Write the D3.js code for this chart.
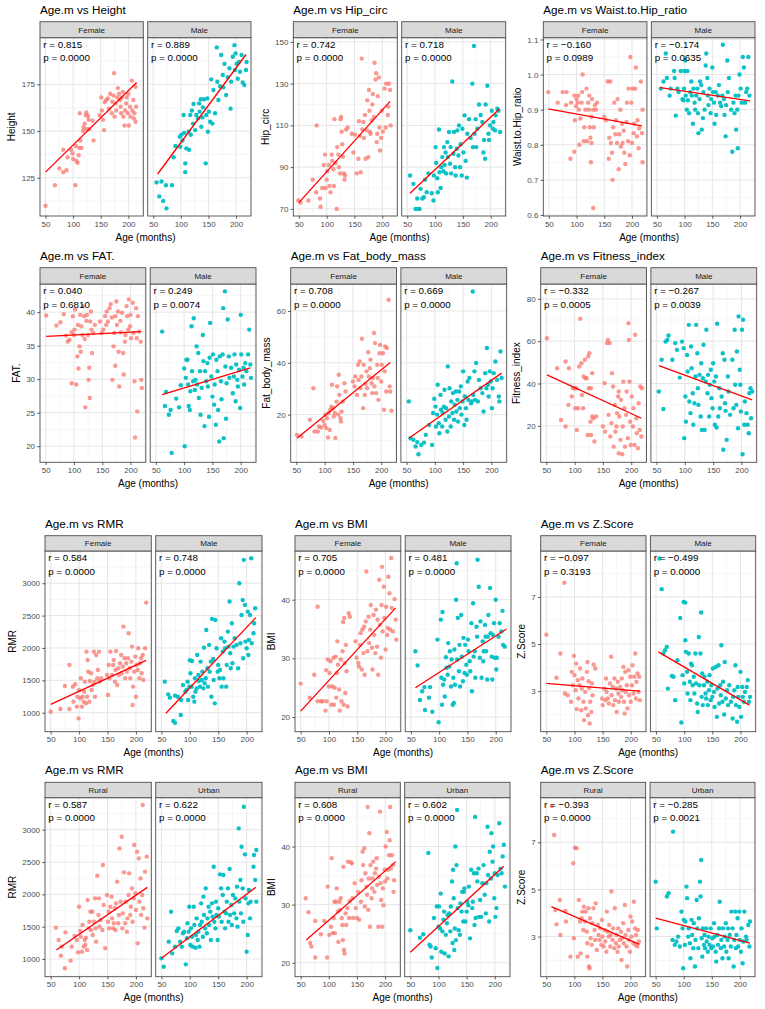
<!DOCTYPE html>
<html>
<head>
<meta charset="utf-8">
<script src="https://cdn.jsdelivr.net/npm/d3@7"></script>
<style>
body { margin: 0; background: #fff; }
svg { display: block; font-family: "Liberation Sans", Arial, sans-serif; }
</style>
</head>
<body>
<div id="chart"></div>
<script>
// shared x axis
const ageDomain = [40, 227];
const ageTicks = [50, 100, 150, 200];

// panel titles, y titles, facet names
const titles = ["Age.m vs Height", "Age.m vs Hip_circ", "Age.m vs Waist.to.Hip_ratio",
	"Age.m vs FAT.", "Age.m vs Fat_body_mass", "Age.m vs Fitness_index",
	"Age.m vs RMR", "Age.m vs BMI", "Age.m vs Z.Score",
	"Age.m vs RMR", "Age.m vs BMI", "Age.m vs Z.Score"];
const yTitles = ["Height", "Hip_circ", "Waist.to.Hip_ratio", "FAT.", "Fat_body_mass", "Fitness_index",
	"RMR", "BMI", "Z.Score", "RMR", "BMI", "Z.Score"];
const sexFacets = ["Female", "Male"];
const areaFacets = ["Rural", "Urban"];

// y axes
const yTicks = [[125, 150, 175], [70, 90, 110, 130, 150], [0.6, 0.7, 0.8, 0.9, 1.0, 1.1],
	[20, 25, 30, 35, 40], [20, 40, 60], [20, 40, 60, 80],
	[1000, 1500, 2000, 2500, 3000], [20, 30, 40], [3, 5, 7],
	[1000, 1500, 2000, 2500, 3000], [20, 30, 40], [3, 5, 7]];
const yDomains = [[104.5, 200], [66.6, 152], [0.597, 1.105],
	[17.6, 44.2], [1.6, 70.4], [2.8, 87],
	[706, 3498], [17.5, 48.3], [1.28, 8.95],
	[726, 3495], [17.6, 48.4], [1.3, 8.89]];

// correlation labels
const rLabels = [["0.815", "0.889"], ["0.742", "0.718"], ["−0.160", "−0.174"],
	["0.040", "0.249"], ["0.708", "0.669"], ["−0.332", "−0.267"],
	["0.584", "0.748"], ["0.705", "0.481"], ["−0.097", "−0.499"],
	["0.587", "0.622"], ["0.608", "0.602"], ["−0.393", "−0.285"]];
const pLabels = [["0.0000", "0.0000"], ["0.0000", "0.0000"], ["0.0989", "0.0635"],
	["0.6810", "0.0074"], ["0.0000", "0.0000"], ["0.0005", "0.0039"],
	["0.0000", "0.0000"], ["0.0000", "0.0000"], ["0.3193", "0.0000"],
	["0.0000", "0.0000"], ["0.0000", "0.0000"], ["0.0000", "0.0021"]];

// fitted lines [x0, y0, x1, y1] per facet
const fitLines = [
	[[50, 128, 215, 176], [58, 127, 218, 191]],
	[[50, 73, 214, 121.5], [55, 77.5, 216, 118]],
	[[49, 0.902, 218, 0.854], [56, 0.963, 218, 0.925]],
	[[51, 36.4, 219, 37.1], [61, 27.7, 217, 31.7]],
	[[51, 10.9, 216, 40.1], [54, 10.9, 218, 36]],
	[[51, 44.1, 218, 23.6], [54, 48.5, 219, 32.3]],
	[[50, 1129, 218, 1809], [58, 990, 216, 2469]],
	[[50, 21, 218, 38.6], [58, 25, 219, 35]],
	[[50, 3.33, 216, 3.0], [54, 4.67, 216, 2.41]],
	[[60, 1139, 220, 2108], [50, 1010, 216, 2108]],
	[[60, 23.9, 219, 37.4], [50, 21.8, 216, 36.6]],
	[[59, 4.27, 216, 2.67], [50, 3.78, 218, 2.72]]];

// points [age, value]
const heightF = [[50,110],[67,121],[75,130],[82,140],[82,128],[88,129],[90,136],[96,140],[99,138],[100,135],[104,121],[105,142],[106,134],[108,133],[111,141],[110,137],[112,159.5],[113,145],[115,141],[118,150],[119,152],[121,154],[123,158.5],[124,160],[125,151],[127,158],[128,156],[129,151],[135,155.5],[137,145],[148,158.5],[151,168],[152,161],[154,156],[156,150.5],[157,165.5],[160,166.6],[163,167.5],[165,162],[167,170],[170,159.5],[171,165.7],[173,169],[174,181],[175,157.7],[177,164.8],[178,161],[180,168],[181,173],[183,170],[185,166.6],[186,163],[187,159.5],[188,168],[190,171],[191,157.7],[193,153],[194,161],[196,164.8],[197,168],[199,159.5],[200,170],[201,153],[203,163],[204,157.7],[206,177],[207,161],[209,166.6],[210,156.8],[211,159.5],[213,173.7],[213,155],[214,163]];
const heightM = [[56,122.5],[61,115],[65,123],[68,112.5],[73,121],[74,108.6],[84,121],[87,136],[90,142],[98,147],[99,141.6],[101,148],[103,145],[105,158.6],[106,149],[108,132.7],[108,128],[110,140.7],[114,149.6],[115,140],[117,158.6],[118,148],[120,161],[122,154],[123,164.5],[126,150.5],[128,158.6],[131,156.8],[133,164.8],[134,160.4],[136,167],[137,152.3],[139,157.3],[140,162.7],[142,167],[145,132.7],[146,158.6],[148,167.5],[149,149.6],[151,160.4],[153,155],[155,177.7],[157,154],[159,172],[162,159.5],[165,194.8],[166,176.4],[168,166.6],[171,174],[173,190.7],[176,180],[177,173.4],[179,186],[182,169.3],[185,178.8],[188,183.6],[190,162],[191,176.4],[194,189.8],[197,196],[198,182.7],[199,191.6],[201,186],[203,178],[205,187],[207,181.8],[210,190.7],[212,176],[215,174.6],[218,182.7],[219,187]];

const hipF = [[49,74],[53,73],[67,74],[75,84],[81,78],[82,110],[88,75],[89,71],[92,80],[95,91],[97,96],[98,80],[100,84],[101,88],[104,91],[105,81],[107,78],[109,96],[110,93],[112,89],[113,81],[114,113],[116,92],[118,70],[119,99.6],[121,96],[122,90],[124,87],[125,113],[126,114],[127,107],[128,101],[129,95],[131,87],[132,84],[133,86],[135,108],[138,109],[145,106],[148,97],[151,105.5],[154,87],[157,94],[158,112],[160,105],[161,87.6],[163,142],[164,108],[166,111.6],[167,104],[169,115],[170,94],[172,107.6],[173,122],[175,94.8],[176,127],[177,117],[178,106.8],[179,106],[181,112.4],[182,120],[183,125],[185,114],[186,140],[188,132],[189,135],[190,102],[191,106],[192,124],[194,133],[195,109],[196,98],[198,104],[199,117],[201,107],[204,127.6],[206,109],[207,130],[210,115],[211,119],[212,130],[214,127],[215,110]];
const hipM = [[55,86],[61,82],[65,70],[68,75],[70,70],[72,70],[74,79.6],[77,75],[80,75.6],[82,84],[85,78],[88,87],[94,77.5],[97,74],[98,86],[101,99.6],[102,92],[104,84.7],[105,78],[107,108],[108,87.6],[110,80],[111,90],[113,94.8],[115,88],[116,99.6],[117,91],[119,97],[120,87],[122,102],[123,94.8],[125,106.8],[127,91.6],[128,99.6],[129,87],[131,131],[133,96.4],[134,106.8],[136,90],[137,86],[139,98.8],[140,107.6],[142,95.6],[143,110],[145,90],[146,101],[148,86],[149,108.4],[151,97],[153,114.8],[155,93],[157,85],[158,106],[161,113],[164,104],[167,130],[168,99.6],[170,148],[171,106],[173,113],[174,99.6],[176,108.4],[179,120],[182,115],[185,111.6],[187,97],[188,103],[190,94],[191,120],[194,129],[196,106],[197,103],[199,110],[202,117],[204,108.4],[205,111.6],[208,107.6],[209,114.8],[212,118],[214,117],[217,106.8]];

const whrF = [[49,0.95],[66,0.92],[75,0.95],[82,0.95],[81,0.913],[89,0.76],[90,0.92],[96,0.94],[97,0.87],[96,0.78],[99,0.91],[100,0.93],[102,0.92],[103,0.94],[104,0.9],[105,0.8],[107,0.875],[109,0.92],[110,0.95],[111,1.0],[113,0.81],[114,0.85],[116,0.9],[118,0.96],[119,0.81],[121,0.92],[122,0.9],[123,0.94],[124,0.85],[125,0.82],[126,0.75],[127,0.805],[127,0.88],[128,0.93],[130,0.62],[130,0.9],[131,0.85],[133,0.913],[135,0.9],[137,0.92],[150,0.88],[153,0.87],[156,0.98],[158,0.76],[159,0.82],[161,0.98],[162,0.805],[164,0.777],[165,0.70],[166,0.85],[168,0.92],[170,0.83],[171,0.87],[173,0.805],[174,0.93],[176,0.73],[177,0.83],[179,0.9],[180,0.795],[182,0.86],[183,0.805],[185,0.84],[186,0.777],[188,0.745],[190,0.865],[191,0.92],[193,0.81],[194,0.96],[196,0.77],[197,1.05],[199,0.92],[200,0.805],[201,0.96],[203,0.833],[204,0.86],[206,0.96],[207,1.02],[209,0.824],[210,0.87],[212,0.79],[213,0.847],[216,0.98],[218,0.833],[219,0.75],[219,0.9]];
const whrM = [[57,0.96],[62,0.98],[66,1.06],[68,0.99],[73,0.94],[75,0.96],[81,1.01],[82,0.99],[84,0.883],[87,0.96],[89,0.95],[93,1.01],[96,0.93],[98,0.927],[99,0.96],[100,1.01],[101,1.04],[102,0.94],[104,0.9],[105,1.01],[106,0.927],[108,0.89],[110,0.95],[112,0.98],[113,0.94],[115,0.86],[116,0.96],[118,0.92],[119,0.9],[121,0.94],[123,0.96],[124,0.89],[125,0.833],[127,0.93],[128,0.98],[130,0.97],[131,0.843],[133,0.876],[134,0.95],[136,0.9],[138,1.026],[139,1.06],[141,0.99],[142,0.94],[143,0.913],[145,0.96],[147,0.89],[148,0.93],[150,1.02],[151,0.95],[153,0.92],[154,0.86],[156,0.95],[157,0.885],[160,0.94],[162,0.97],[164,0.92],[166,0.91],[168,0.94],[169,1.085],[171,0.93],[172,0.885],[174,0.824],[175,0.913],[177,1.04],[178,0.95],[180,0.99],[184,0.9],[186,0.78],[188,0.92],[190,0.89],[192,0.94],[193,0.843],[195,0.9],[196,0.79],[197,0.94],[199,1.0],[201,0.96],[203,0.92],[205,1.05],[207,1.02],[209,0.92],[211,0.95],[213,0.96],[215,1.05],[217,0.94]];

const fatF = [[51,39.5],[69,38],[76,38.5],[82,39.7],[86,36.5],[89,35.6],[92,35.9],[96,37],[96,29.4],[98,39.4],[100,36.6],[101,37.4],[102,40.4],[104,29.2],[106,33.4],[107,38.1],[108,31.6],[110,34.9],[111,39.6],[112,34.1],[113,37.9],[115,36.6],[116,40.9],[118,39.4],[119,36],[120,25.8],[122,38.7],[123,39.6],[125,36.6],[126,29.9],[127,31.7],[128,27.2],[129,38.6],[130,40.1],[131,37.4],[132,33.9],[134,36.9],[137,38.1],[146,38.6],[149,36.9],[152,37.4],[155,39.4],[157,38.1],[158,40.1],[160,38.6],[163,40.6],[165,41.2],[167,39.2],[168,29.9],[170,34.9],[171,36.9],[173,39.4],[173,32],[175,41.6],[176,38.1],[178,40.1],[179,34.1],[180,28.9],[182,38.7],[183,37],[185,39.9],[187,33.9],[188,30.7],[190,35.6],[191,36.6],[193,40.9],[194,39.4],[196,37.4],[197,41.9],[199,37.9],[200,39.6],[201,36.1],[204,41.4],[205,36.9],[207,29.7],[208,21.3],[210,40.6],[211,36.1],[212,25.2],[213,39.4],[215,37.1],[218,35.6],[219,29.9],[220,28.7]];
const fatM = [[61,37.1],[66,26],[68,28.1],[73,24.7],[76,25.4],[78,19],[86,27.1],[91,25.8],[94,29.1],[100,31.6],[101,20],[103,30.2],[104,32.9],[106,32.9],[107,29.2],[108,26],[110,25.4],[111,28.2],[113,37.9],[114,31.2],[116,29.7],[117,39.1],[119,28.4],[120,29.9],[122,34.9],[123,29.2],[125,33.9],[126,27.2],[128,31.2],[129,24.7],[131,28.7],[133,36.6],[134,32.7],[136,23],[137,31.2],[139,29.7],[141,32.4],[142,28.9],[144,24.4],[145,33.2],[146,38.4],[148,30.4],[150,27.4],[151,33.7],[153,26.2],[154,29.2],[156,23.2],[157,32.9],[159,31.2],[160,25.4],[162,20.7],[163,33.4],[165,29.7],[166,27],[168,33.7],[169,40.6],[170,21.2],[172,43.1],[173,31.9],[174,24.1],[175,29.4],[177,38.9],[179,33.4],[180,30.2],[183,31.7],[186,27.9],[188,30.4],[189,33.7],[191,26.7],[192,32.2],[194,29.9],[195,28.9],[197,31.4],[199,25.7],[200,39.6],[201,33.7],[203,30.4],[205,31.7],[206,29.2],[208,32.4],[210,31.2],[213,33.7],[215,37.4],[217,32.2],[218,30.2]];

const fbmF = [[51,12.2],[59,11.6],[74,18],[80,30.2],[82,13.5],[88,13.5],[90,15.4],[94,15],[97,17.6],[100,16],[101,20],[103,14.8],[104,18.6],[106,11.2],[107,20.6],[109,14.1],[110,21.9],[112,23.1],[113,31.5],[115,22.5],[116,19.3],[118,20.6],[119,11],[121,25],[122,30.9],[124,20],[125,35.4],[126,27.6],[128,18.6],[129,17.3],[130,21.2],[132,25],[135,32.1],[137,28.9],[150,32.8],[153,30.9],[154,34.7],[157,27.6],[159,39.2],[160,33.4],[162,40.5],[163,30.2],[165,34.7],[166,49.3],[168,22.5],[169,39.2],[171,27.6],[172,31.8],[174,36.7],[175,30.2],[177,44.1],[178,34.7],[180,37.9],[181,41.2],[183,32.1],[184,28.3],[185,34.1],[187,51.5],[188,30.9],[189,47.6],[191,28.3],[193,39.2],[194,34.1],[195,25.7],[197,43.7],[198,46.9],[200,32.8],[201,39.2],[203,43.7],[205,21.9],[206,36.7],[207,46.3],[209,28.9],[210,45.7],[213,64.3],[215,30.9],[216,28.9],[218,21.5]];
const fbmM = [[54,25.1],[57,10.9],[62,10.3],[66,7.7],[69,9.4],[71,4.7],[76,8.3],[81,9.2],[84,12.2],[90,16],[95,8.3],[97,20.6],[99,26.1],[101,23.1],[102,15.4],[104,20],[105,31.5],[107,16.7],[108,12.8],[110,27.6],[111,21.9],[113,15.4],[114,20.6],[116,23.1],[117,29.6],[119,18],[120,22.5],[122,13.5],[123,38.6],[125,19.3],[126,30.2],[128,15.4],[129,25.1],[131,20.6],[132,28.3],[134,18],[135,23.8],[137,28.9],[138,21.2],[140,25.7],[141,17.3],[143,28.9],[144,22.5],[146,30.9],[147,20],[149,25.1],[150,36.7],[152,16],[153,27],[155,22.5],[156,18],[158,32.8],[159,25.7],[161,34.1],[164,24.4],[165,25.1],[167,67.5],[168,27.6],[170,36.7],[171,25.7],[173,39.9],[176,25.1],[178,33.4],[181,30.2],[184,28.3],[186,21.2],[189,36],[191,30.2],[192,45.7],[194,31.5],[195,27],[197,36.7],[199,32.8],[201,22.5],[202,30.2],[204,36],[207,40.5],[210,33.4],[213,27],[214,25.1],[216,44.4],[218,34.1]];

const fitF = [[51,61.4],[69,47.2],[76,22.8],[84,50.4],[84,19.7],[89,29.9],[90,47.2],[95,33.9],[97,37.8],[100,37.8],[101,28.3],[103,37.8],[104,18.1],[106,28.3],[108,48],[110,70.6],[112,49.6],[113,34.6],[115,28.3],[116,43.3],[118,51.2],[119,42.5],[121,42.5],[123,15.7],[124,52.8],[125,37.8],[126,54.3],[128,22],[129,15.7],[129,37.8],[131,24.4],[131,44.9],[133,23.6],[135,12.6],[138,24.4],[150,19.7],[153,40.2],[154,17.3],[157,59.1],[159,60.6],[160,25.2],[162,59.1],[163,15],[165,21.3],[166,44.9],[168,38.6],[169,10.2],[171,29.9],[172,17.3],[174,19.7],[175,26],[177,33.9],[178,7.1],[178,36.2],[179,24.4],[181,13.4],[182,32.3],[184,6.6],[185,19.7],[186,40.9],[188,28.3],[189,10.2],[191,25.2],[192,36.2],[194,14.2],[195,68.5],[196,60.6],[197,40.9],[198,22],[199,11],[201,33.9],[203,19.7],[204,28.3],[206,11],[207,63],[209,23.6],[210,16.5],[212,9.4],[213,30.7],[215,18.1],[216,38.6],[218,15],[219,37.8]];
const fitM = [[54,36.2],[59,51.2],[62,28],[66,59.8],[69,60.6],[71,62.7],[78,51.2],[83,59.1],[86,55.9],[91,42.8],[95,59.8],[98,56.7],[99,14.2],[101,33.9],[102,22],[104,53.5],[105,45.7],[107,67.7],[108,31.5],[110,26],[111,57.5],[112,47.2],[114,35.4],[115,20.5],[117,30.7],[119,43.3],[120,67.7],[122,54.3],[123,37.8],[124,29.9],[126,44.1],[128,24.4],[129,49.6],[130,18.1],[132,42.5],[133,58.3],[135,18.1],[137,40.9],[138,65.4],[140,35.4],[141,44.1],[143,24.4],[144,39.4],[146,46.5],[147,33.1],[149,28.3],[150,49.6],[152,40.9],[153,20.5],[155,43.3],[156,19.2],[157,68.2],[159,24.4],[161,37.8],[162,28.3],[165,33.9],[167,54.3],[168,8.7],[170,51.2],[171,30.7],[172,27.1],[174,13.4],[176,43.3],[177,36.2],[180,25.2],[184,51.2],[186,28.3],[188,65.4],[189,39.4],[191,29.9],[192,55.1],[194,18.9],[195,71.7],[197,46.5],[198,39.4],[199,26.8],[201,65.4],[202,6.6],[203,70.1],[205,20.5],[206,31.5],[209,26],[211,20.5],[213,16.5],[214,35.4],[216,37.8],[217,23.6],[219,36.2]];

const rmrF = [[50,1015],[67,1057],[75,1412],[83,1737],[83,1057],[89,1402],[90,1170],[93,1438],[96,1093],[97,1247],[99,912],[100,1350],[102,1222],[103,1531],[105,1093],[106,1247],[108,1170],[109,1325],[110,1479],[112,1144],[113,1943],[114,1247],[115,1814],[116,1634],[118,1170],[119,1490],[121,1608],[122,1350],[124,1428],[126,1943],[127,1479],[128,1247],[130,1892],[132,1531],[133,1660],[135,1943],[136,1479],[139,1531],[149,1582],[151,1273],[152,1737],[153,1531],[155,1943],[158,1582],[160,1737],[161,1814],[163,1479],[164,1660],[165,1954],[167,1428],[169,1686],[170,1582],[172,1763],[174,1892],[175,1608],[177,1711],[178,2330],[180,1840],[181,1531],[183,1763],[184,1634],[186,1840],[187,2227],[189,1686],[190,1531],[192,1789],[193,2021],[194,1119],[195,1402],[197,1634],[199,1866],[200,1247],[201,1737],[203,1660],[204,1995],[206,1531],[207,1763],[209,1840],[210,1608],[212,1892],[213,1505],[216,1995],[218,2701]];
const rmrM = [[56,1479],[62,1283],[65,1232],[71,871],[74,845],[74,1263],[79,1247],[84,964],[85,1196],[88,1428],[92,1325],[94,1350],[96,1479],[97,1196],[99,1402],[100,1809],[101,1608],[103,1402],[104,1799],[106,1247],[108,1170],[109,1531],[110,1325],[112,1376],[113,1892],[115,1582],[116,1490],[118,1402],[119,1789],[121,1505],[122,1634],[124,1376],[125,2005],[126,1454],[128,1531],[129,2278],[131,1686],[132,1402],[134,2047],[135,1634],[137,1789],[138,1247],[139,2449],[141,1830],[142,1505],[144,1144],[145,2433],[147,1995],[149,1634],[150,1737],[152,1531],[153,1660],[155,2150],[156,1402],[158,1943],[159,1531],[161,2098],[162,1995],[164,1402],[165,1737],[167,2253],[168,2021],[170,2717],[171,1918],[172,1686],[174,2382],[175,1763],[177,2021],[179,2150],[182,2047],[185,1686],[187,3000],[189,2072],[191,2510],[193,2742],[194,1840],[195,3361],[197,2665],[198,2098],[200,1995],[202,2562],[203,1892],[204,2124],[206,2510],[208,3387],[209,2072],[212,2227],[213,2382],[215,2614]];

const bmiF = [[50,25.7],[66,23.3],[74,27.2],[80,38.8],[80,22.7],[86,22.7],[89,22.7],[94,21.1],[95,28],[96,22.7],[98,29.8],[100,25.2],[101,27.5],[103,29.5],[104,22.1],[106,25.2],[108,30.1],[109,22.1],[110,25],[112,30.3],[113,23.3],[114,27.5],[115,32.9],[116,28.9],[118,24.7],[119,21.1],[121,29.8],[122,22.7],[124,31.2],[125,36.2],[126,22.1],[127,36.9],[128,29.2],[129,24.1],[130,32.3],[131,27.8],[133,21.8],[135,37.7],[137,37.1],[147,32.9],[149,30.1],[152,29.2],[153,28.6],[155,32.3],[156,34.3],[158,28.1],[159,34.9],[161,30.9],[162,35.4],[163,27.2],[165,36.3],[166,44.8],[168,31.2],[170,37.1],[171,32.6],[173,34.9],[174,39.1],[176,31.8],[177,28.1],[179,37.4],[180,34],[182,30.9],[183,38.3],[185,32],[186,36.6],[187,27.2],[189,43.4],[190,35.7],[192,30.1],[193,39.1],[194,45.6],[195,34.6],[197,42.2],[198,36.9],[200,31.5],[201,38.8],[203,34],[204,35.2],[205,43.9],[207,41.1],[208,34.9],[210,47.1],[211,38.6],[213,34.6],[216,40.1],[218,36.6],[219,33.2]];
const bmiM = [[58,31.2],[62,28.8],[66,22.9],[70,24.4],[74,25.1],[75,21.2],[82,23.3],[84,25.1],[88,20.9],[97,33.2],[99,19.1],[103,36.6],[104,26.7],[105,22.1],[106,37.9],[107,25.5],[109,26.4],[110,23.5],[112,30.2],[113,28.4],[115,27.2],[116,32.6],[118,28.6],[119,31.2],[121,25.2],[122,29.8],[124,22.1],[125,26.7],[126,22.4],[127,31.5],[128,25.5],[130,40],[131,46.2],[132,29.8],[133,36.9],[135,27.8],[136,32.3],[137,25.2],[139,37.4],[140,30.3],[142,26.1],[143,33.5],[145,27.5],[146,32.3],[148,28.9],[149,27.2],[151,33.2],[152,31.2],[154,29.5],[155,27.8],[157,36],[158,24.4],[160,39.4],[161,30.3],[163,31.2],[164,26.7],[166,35.4],[167,33.7],[168,46.8],[170,42.2],[172,30.1],[173,36.3],[175,26.7],[177,32.9],[178,29.5],[179,31.2],[181,35.7],[182,33.7],[183,31.2],[185,26.4],[186,33.7],[187,37.4],[190,42],[191,34.3],[193,30.3],[194,26.4],[195,34],[197,36],[198,30.1],[200,40],[201,28.1],[202,30.1],[205,33.7],[207,36],[210,34.6],[212,38.1],[213,32.3],[216,32]];

const zF = [[50,5.4],[68,3.57],[75,4.6],[82,7.6],[83,2.9],[88,2.83],[94,2.55],[95,3.82],[97,3.25],[99,4.5],[100,3.68],[102,3.04],[103,4.17],[104,2.24],[106,3.47],[107,2.69],[109,3.25],[110,3.96],[112,2.19],[113,3.11],[114,3.54],[116,2.55],[117,1.77],[119,2.97],[120,2.27],[122,3.82],[123,4.24],[124,1.98],[125,3.42],[126,3.14],[127,1.63],[128,2.55],[130,2.12],[131,3.33],[132,2.83],[134,4.13],[137,3.96],[149,2.69],[150,2.41],[153,3.11],[155,2.62],[156,3.54],[157,2.97],[159,2.69],[161,2.48],[163,3.33],[165,4.46],[166,2.83],[168,3.18],[169,2.41],[171,3.54],[172,2.62],[174,3.11],[175,2.12],[177,3.4],[178,2.9],[179,2.55],[181,3.18],[183,2.76],[184,3.54],[185,3.04],[187,4.03],[188,2.55],[189,2.05],[190,3.82],[191,2.97],[193,3.25],[194,2.27],[196,3.89],[197,2.83],[199,3.61],[200,2.55],[202,3.25],[203,4.1],[205,2.9],[206,3.61],[208,4.6],[209,2.69],[210,3.4],[212,3.75],[214,2.97],[215,3.61],[216,2.62]];
const zM = [[56,8.63],[60,7.33],[63,4.6],[66,4.74],[69,4.88],[71,3.11],[78,3.65],[81,3.61],[84,2.62],[88,4.31],[93,6.11],[95,1.67],[97,3.68],[99,6.79],[100,3.33],[102,6.76],[102,5.16],[103,4.67],[105,3.82],[106,2.9],[108,4.6],[110,3.4],[111,2.62],[112,4.17],[114,4.1],[115,3.25],[117,3.61],[118,2.9],[120,4.6],[121,3.33],[123,2.48],[124,2.12],[126,5.3],[127,3.25],[129,4.6],[130,6.34],[131,2.76],[132,3.75],[133,2.41],[135,3.25],[136,3.61],[138,2.9],[139,2.69],[141,3.4],[142,2.41],[144,3.04],[145,3.68],[147,2.62],[148,3.25],[150,2.76],[151,3.96],[153,2.97],[154,2.33],[156,4.03],[158,1.91],[159,3.11],[161,4.1],[162,2.48],[164,3.25],[165,2.83],[166,4.95],[168,2.55],[169,3.4],[171,2.01],[172,4.24],[174,2.69],[176,3.04],[178,2.41],[180,3.25],[183,2.55],[186,1.84],[187,2.76],[189,3.04],[191,4.1],[192,2.41],[194,1.7],[195,3.18],[196,2.76],[198,2.33],[200,3.82],[201,1.91],[203,3.18],[204,2.76],[206,2.55],[208,2.97],[211,3.18],[213,3.47],[215,2.55],[217,2.76]];

const rmrRural = [[59,1485],[64,1294],[68,1052],[69,1191],[75,856],[76,1412],[85,974],[87,1191],[92,1356],[96,1294],[98,1103],[100,1809],[102,1433],[103,1345],[105,1113],[106,1526],[108,1191],[110,1294],[111,1217],[112,1330],[114,1139],[115,1912],[117,1474],[118,1577],[120,1732],[121,1448],[123,1732],[124,1371],[126,1577],[128,1938],[129,1474],[130,1268],[132,2289],[134,1680],[135,1938],[136,1500],[138,1603],[141,1448],[142,2454],[143,1835],[146,1165],[149,1990],[151,1577],[152,1732],[153,1474],[155,1809],[157,1964],[158,1629],[160,1474],[161,1552],[163,1784],[164,1448],[165,1861],[167,2196],[169,1552],[170,1680],[171,2711],[173,1887],[175,2892],[176,1474],[177,1706],[179,2340],[181,1552],[182,1887],[184,1423],[185,1629],[187,1990],[188,2325],[190,1680],[191,1809],[193,2093],[194,1577],[196,1938],[197,2763],[199,2016],[200,1758],[202,2660],[203,1242],[205,2557],[206,1887],[208,2247],[209,1680],[211,1990],[212,3381],[213,1784],[215,1485],[216,2351],[219,2583],[220,1629]];
const rmrUrban = [[50,1010],[54,881],[63,1268],[67,1732],[69,1087],[74,1191],[77,1433],[80,1474],[83,1268],[86,1191],[88,1397],[90,1423],[93,917],[95,1320],[96,1552],[98,1423],[99,1809],[101,1217],[102,1474],[104,1345],[105,1191],[107,1809],[108,1526],[110,1175],[111,1371],[112,1629],[114,1294],[115,1423],[117,1191],[118,1526],[120,1861],[121,1577],[123,1345],[124,1964],[125,1680],[127,1474],[128,2093],[130,1397],[131,1629],[133,1809],[134,1526],[136,1732],[137,1294],[139,1861],[140,1655],[142,2428],[143,1577],[145,1474],[146,1887],[147,1680],[149,1294],[150,1784],[151,1655],[153,2309],[155,2093],[156,1577],[158,1990],[159,2299],[161,1732],[162,1474],[164,1706],[165,1887],[167,2093],[168,1577],[170,2392],[171,1680],[173,1835],[174,1526],[176,1990],[178,1706],[180,1938],[182,1629],[183,2119],[184,1500],[186,3020],[187,1887],[189,2222],[190,1706],[191,2737],[193,2093],[194,1577],[195,3356],[197,2619],[198,1938],[200,1113],[202,1371],[203,1861],[204,2067],[206,1629],[207,1887],[212,2428],[213,2608],[215,2222],[217,2686],[217,1887]];

const bmiRural = [[59,31.1],[64,28.7],[67,23.4],[69,22.8],[76,27.2],[76,20.9],[86,24.9],[92,27.2],[97,20.9],[98,33.1],[101,24.8],[104,26.2],[105,38],[107,25.1],[109,27.7],[110,30.5],[111,25.1],[113,30.5],[114,32.8],[116,28.8],[117,23.6],[119,30.5],[120,29.1],[121,31.1],[123,27.7],[124,26.5],[125,23.9],[126,36.5],[127,22.2],[128,21.6],[130,28.5],[131,26.5],[133,29.4],[134,37.4],[136,27.7],[137,30.6],[139,37.3],[141,37.1],[142,31.1],[143,27.7],[146,33.7],[148,29.4],[150,27.7],[152,32.2],[154,27.4],[157,30.5],[158,34.2],[160,39.1],[161,36.8],[163,39.7],[164,29.7],[165,35.4],[167,33.1],[168,31.7],[169,46.8],[170,29.1],[171,34.5],[172,42.3],[173,26.2],[174,36.8],[176,31.1],[177,32.8],[178,34.5],[179,37.4],[181,32.2],[182,35.4],[184,36.2],[185,38],[186,33.4],[188,26.2],[189,34.8],[191,46],[192,33.7],[193,30.8],[195,26.2],[196,32.8],[197,29.9],[199,36],[200,34],[201,40],[203,42.5],[204,34.5],[205,36],[207,38.5],[208,41.1],[209,46.8],[210,36.2],[212,38.5],[214,36.8],[215,32.2],[216,34.2]];
const bmiUrban = [[50,25.6],[67,24.3],[73,24.9],[82,38.9],[84,23.1],[86,22.8],[88,20.9],[92,27.7],[95,22.5],[97,29.7],[98,19.1],[100,26.2],[101,29.7],[103,25.9],[104,31.9],[105,21.9],[107,25.4],[109,27.4],[110,28.8],[111,21.6],[113,24.8],[115,26.8],[116,28.2],[118,21.1],[119,28.5],[121,25.4],[122,29.7],[124,34],[125,23.4],[126,36],[127,31.1],[128,22.2],[129,25.9],[130,40],[131,23.9],[132,36.8],[133,46.3],[134,29.4],[136,25.6],[138,24.8],[139,30.2],[141,28.8],[142,32.2],[144,27.1],[145,32.2],[146,32.8],[148,27.1],[150,28.8],[151,30.5],[153,29.9],[154,33.1],[156,24.2],[158,36],[160,29.4],[161,30.5],[163,35.4],[164,26.5],[165,45.1],[166,27.7],[168,35.4],[169,34],[171,36.2],[172,27.9],[174,30.8],[176,27.9],[178,33.7],[180,36.8],[182,31.7],[184,28.5],[185,33.7],[187,43.4],[188,35.1],[190,27.1],[191,39.1],[193,34.5],[194,42.3],[196,37.4],[197,40],[199,31.1],[200,35.4],[201,27.9],[203,29.4],[205,35.1],[208,44],[210,36.2],[212,35.4],[214,38.3],[216,40.3],[218,33.1]];

const zRural = [[60,8.54],[64,7.31],[66,4.13],[68,3.52],[74,4.55],[75,3.07],[84,4.09],[85,3.64],[93,2.15],[98,6.11],[99,2.93],[101,6.77],[104,6.75],[106,2.15],[108,4.55],[110,3.64],[111,2.29],[113,3.78],[114,4.06],[116,3.28],[117,4.27],[119,3.64],[120,4.06],[122,3.21],[123,2.15],[123,2.72],[125,4.2],[126,1.73],[127,1.66],[128,3.78],[129,2.93],[131,2.65],[132,3.57],[134,4.2],[136,3.28],[137,2.86],[138,4.41],[140,2.43],[142,3.49],[143,3.07],[145,2.86],[146,3.35],[148,2.65],[149,3.71],[150,3.0],[152,2.58],[154,3.28],[155,2.79],[157,2.36],[158,4.06],[159,3.21],[161,3.0],[162,3.49],[164,2.58],[165,3.07],[166,4.91],[168,2.86],[169,3.35],[171,2.51],[172,4.2],[174,2.72],[175,3.07],[177,2.36],[178,3.35],[179,2.58],[181,2.86],[183,3.21],[184,2.01],[185,2.93],[187,3.57],[188,2.72],[190,4.34],[191,3.07],[193,2.58],[194,1.73],[196,3.28],[197,2.86],[199,2.36],[200,3.85],[202,3.0],[203,3.64],[205,2.72],[206,4.48],[208,3.35],[209,2.65],[210,3.07],[212,2.58],[213,3.28],[215,2.79]];
const zUrban = [[50,5.33],[52,3.35],[70,4.7],[73,4.84],[80,2.86],[81,7.45],[84,2.65],[87,2.79],[90,3.0],[93,2.58],[96,4.06],[98,3.35],[99,1.66],[100,3.71],[102,2.65],[103,3.64],[105,5.12],[106,4.63],[108,3.0],[109,3.35],[111,2.72],[112,2.08],[114,3.71],[115,3.07],[117,2.51],[118,3.57],[120,1.73],[121,2.86],[123,4.55],[124,3.35],[126,2.51],[127,3.78],[129,5.33],[130,4.7],[131,6.25],[132,2.93],[133,2.15],[134,3.35],[136,2.65],[137,3.07],[138,2.51],[140,3.35],[141,2.79],[143,2.36],[144,3.0],[146,2.65],[148,3.35],[149,2.51],[151,2.93],[152,2.58],[154,3.57],[155,3.0],[157,2.36],[158,1.94],[160,3.07],[161,2.65],[163,3.35],[164,4.48],[166,2.51],[167,2.86],[169,2.08],[170,3.35],[172,2.58],[173,3.0],[175,3.57],[176,2.36],[178,2.86],[179,3.35],[180,2.08],[182,3.07],[184,2.58],[185,4.06],[187,3.35],[189,1.73],[190,2.86],[192,4.06],[193,2.51],[194,3.07],[196,3.78],[197,2.58],[199,4.06],[200,2.86],[202,2.36],[203,3.35],[205,1.87],[206,2.79],[208,4.06],[211,3.0],[212,2.86],[215,3.49],[217,2.58],[218,3.64]];

const facetPoints = [[heightF, heightM], [hipF, hipM], [whrF, whrM],
	[fatF, fatM], [fbmF, fbmM], [fitF, fitM],
	[rmrF, rmrM], [bmiF, bmiM], [zF, zM],
	[rmrRural, rmrUrban], [bmiRural, bmiUrban], [zRural, zUrban]];

// layout (pixels)
const titleBase = [14, 260, 528, 774.3];
const stripTop = [21.7, 267.7, 535.7, 782.3];
const stripBot = [37.7, 284, 551, 797.7];
const panelBot = [216, 462.3, 731.7, 976.7];
const colLeft = [[40, 293.3, 543.3], [40, 290.7, 540.7], [45, 295, 540.7], [45, 295, 540.7]];
const colRight = [[251, 505.7, 755], [256, 506.7, 756.7], [262, 511, 755.7], [262, 510, 755]];
const facetGap = 4.4;
const colors = ["#F8766D", "#00BFC4"];
const opac = [0.75, 0.95];

const W = 765, H = 1009;
const svg = d3.select("#chart").append("svg").attr("width", W).attr("height", H);
svg.append("rect").attr("width", W).attr("height", H).attr("fill", "#fff");

function minorTicks(ticks, dom) {
	var step = ticks[1] - ticks[0];
	var out = [];
	for (var v = ticks[0] - step / 2; v <= dom[1] + 1e-9; v += step) {
		if (v >= dom[0]) out.push(v);
	}
	return out;
}

titles.forEach(function(title, i) {
	var r = Math.floor(i / 3), c = i % 3;
	var L = colLeft[r][c], R = colRight[r][c];
	var fw = (R - L - facetGap) / 2;
	var top = stripBot[r], bot = panelBot[r];
	var facets = r < 3 ? sexFacets : areaFacets;
	var ticks = yTicks[i];
	var y = d3.scaleLinear().domain(yDomains[i]).range([bot, top]);
	var fmt = ticks.some(function(v) { return v % 1 !== 0; }) ? d3.format(".1f") : d3.format("d");
	var g = svg.append("g");

	// plot title
	g.append("text")
		.attr("x", L).attr("y", titleBase[r])
		.attr("font-size", 11.7).attr("fill", "#000")
		.text(title);

	var maxLabelW = 0;

	facets.forEach(function(name, f) {
		var x0 = L + f * (fw + facetGap);
		var x = d3.scaleLinear().domain(ageDomain).range([x0, x0 + fw]);
		var fg = g.append("g");

		// panel background
		fg.append("rect").attr("x", x0).attr("y", top).attr("width", fw).attr("height", bot - top)
			.attr("fill", "#fff");

		// minor grid
		minorTicks(ageTicks, ageDomain).forEach(function(v) {
			fg.append("line").attr("x1", x(v)).attr("x2", x(v)).attr("y1", top).attr("y2", bot)
				.attr("stroke", "#F0F0F0").attr("stroke-width", 0.6);
		});
		minorTicks(ticks, yDomains[i]).forEach(function(v) {
			fg.append("line").attr("x1", x0).attr("x2", x0 + fw).attr("y1", y(v)).attr("y2", y(v))
				.attr("stroke", "#F0F0F0").attr("stroke-width", 0.6);
		});
		// major grid
		ageTicks.forEach(function(v) {
			fg.append("line").attr("x1", x(v)).attr("x2", x(v)).attr("y1", top).attr("y2", bot)
				.attr("stroke", "#E6E6E6").attr("stroke-width", 1);
		});
		ticks.forEach(function(v) {
			fg.append("line").attr("x1", x0).attr("x2", x0 + fw).attr("y1", y(v)).attr("y2", y(v))
				.attr("stroke", "#E6E6E6").attr("stroke-width", 1);
		});

		// points
		fg.append("g").selectAll("circle")
			.data(facetPoints[i][f])
			.join("circle")
			.attr("cx", function(d) { return x(d[0]); })
			.attr("cy", function(d) { return y(d[1]); })
			.attr("r", 2.2)
			.attr("fill", colors[f])
			.attr("fill-opacity", opac[f]);

		// fitted line
		var fl = fitLines[i][f];
		fg.append("line")
			.attr("x1", x(fl[0])).attr("y1", y(fl[1]))
			.attr("x2", x(fl[2])).attr("y2", y(fl[3]))
			.attr("stroke", "#FF0000").attr("stroke-width", 1.3);

		// r and p labels
		fg.append("text").attr("x", x0 + 3.3).attr("y", top + 10.2)
			.attr("font-size", 9.8).attr("fill", "#000")
			.text("r = " + rLabels[i][f]);
		fg.append("text").attr("x", x0 + 3.3).attr("y", top + 23.5)
			.attr("font-size", 9.8).attr("fill", "#000")
			.text("p = " + pLabels[i][f]);

		// panel border
		fg.append("rect").attr("x", x0).attr("y", top).attr("width", fw).attr("height", bot - top)
			.attr("fill", "none").attr("stroke", "#4D4D4D").attr("stroke-width", 0.9);

		// strip
		fg.append("rect").attr("x", x0).attr("y", stripTop[r]).attr("width", fw).attr("height", top - stripTop[r])
			.attr("fill", "#D9D9D9").attr("stroke", "#4D4D4D").attr("stroke-width", 0.9);
		fg.append("text").attr("x", x0 + fw / 2).attr("y", (stripTop[r] + top) / 2 + 2.9)
			.attr("text-anchor", "middle").attr("font-size", 8).attr("fill", "#1A1A1A")
			.text(name);

		// x axis
		var xa = fg.append("g").attr("transform", "translate(0," + bot + ")")
			.call(d3.axisBottom(x).tickValues(ageTicks).tickSize(2.75).tickPadding(2.2));
		xa.select(".domain").remove();
		xa.selectAll("line").attr("stroke", "#333").attr("stroke-width", 0.8);
		xa.selectAll("text").attr("font-size", 8).attr("fill", "#4D4D4D")
			.attr("font-family", "Liberation Sans, Arial, sans-serif");

		// y axis on first facet
		if (f === 0) {
			var ya = fg.append("g").attr("transform", "translate(" + x0 + ",0)")
				.call(d3.axisLeft(y).tickValues(ticks).tickFormat(fmt).tickSize(2.75).tickPadding(2.2));
			ya.select(".domain").remove();
			ya.selectAll("line").attr("stroke", "#333").attr("stroke-width", 0.8);
			ya.selectAll("text").attr("font-size", 8).attr("fill", "#4D4D4D")
				.attr("font-family", "Liberation Sans, Arial, sans-serif");
			ya.selectAll("text").each(function() {
				maxLabelW = Math.max(maxLabelW, this.getComputedTextLength());
			});
		}
	});

	// axis titles
	g.append("text")
		.attr("x", (L + R) / 2).attr("y", bot + 24.5)
		.attr("text-anchor", "middle").attr("font-size", 10).attr("fill", "#000")
		.text("Age (months)");
	var yx = L - 4.95 - maxLabelW - 2.75 - 3.6;
	var yc = (top + bot) / 2;
	g.append("text")
		.attr("transform", "translate(" + yx + "," + yc + ") rotate(-90)")
		.attr("text-anchor", "middle").attr("font-size", 10).attr("fill", "#000")
		.text(yTitles[i]);
});
</script>
</body>
</html>
